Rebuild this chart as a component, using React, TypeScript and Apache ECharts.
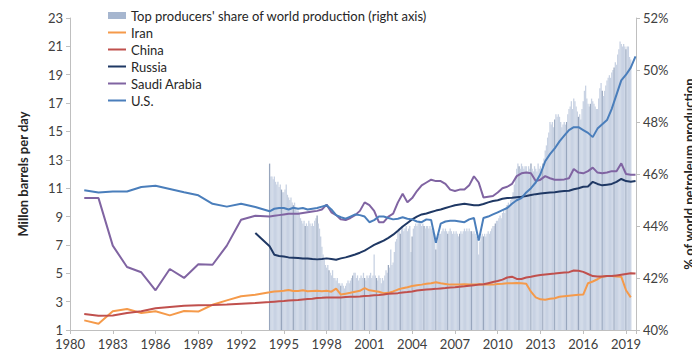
import React, { useEffect, useRef } from "react";
import * as echarts from "echarts";

// Annual readings 1981-1993 (million barrels per day)
const annualYears = [1981, 1982, 1983, 1984, 1985, 1986, 1987, 1988, 1989, 1990, 1991, 1992, 1993];
const iranAnnual = [1.68, 1.44, 2.32, 2.48, 2.2, 2.32, 2.03, 2.34, 2.3, 2.78, 3.09, 3.38, 3.49];
const chinaAnnual = [2.13, 2.01, 2.03, 2.2, 2.32, 2.53, 2.62, 2.71, 2.74, 2.76, 2.8, 2.85, 2.9];
const russiaAnnual = [null, null, null, null, null, null, null, null, null, null, null, null, 7.84];
const saudiAnnual = [10.3, 10.3, 6.95, 5.44, 5.07, 3.8, 5.3, 4.67, 5.63, 5.6, 6.95, 8.78, 9.06];
const usAnnual = [10.85, 10.7, 10.77, 10.77, 11.08, 11.17, 10.94, 10.71, 10.5, 9.9, 9.7, 9.9, 9.67];

// Readings 1994-2019, three per year (Jan, May, Sep)
const periodYears = [1994, 1995, 1996, 1997, 1998, 1999, 2000, 2001, 2002, 2003, 2004, 2005, 2006,
  2007, 2008, 2009, 2010, 2011, 2012, 2013, 2014, 2015, 2016, 2017, 2018, 2019];
const periodMonths = [0, 4, 8];

const iranPeriod = [
  3.66, 3.72, 3.74, 3.76, 3.82, 3.75, 3.75, 3.8, 3.74, 3.75, 3.76, 3.74,
  3.76, 3.7, 3.92, 3.5, 3.56, 3.62, 3.7, 3.76, 3.95, 3.8, 3.75, 3.7,
  3.6, 3.62, 3.72, 3.85, 3.95, 4.02, 4.1, 4.15, 4.2, 4.26, 4.3, 4.36,
  4.3, 4.25, 4.2, 4.2, 4.2, 4.22, 4.2, 4.2, 4.22, 4.2, 4.2, 4.2,
  4.24, 4.26, 4.3, 4.3, 4.31, 4.3, 4.26, 3.7, 3.3, 3.16, 3.14, 3.2,
  3.24, 3.34, 3.38, 3.42, 3.45, 3.48, 3.5, 4.3, 4.42, 4.58, 4.76, 4.8,
  4.8, 4.78, 4.76, 3.8, 3.3, null,
];
const chinaPeriod = [
  2.97, 3.0, 3.03, 3.05, 3.08, 3.1, 3.12, 3.15, 3.18, 3.2, 3.25, 3.27,
  3.3, 3.3, 3.3, 3.3, 3.32, 3.34, 3.35, 3.37, 3.4, 3.42, 3.45, 3.47,
  3.5, 3.55, 3.58, 3.6, 3.65, 3.68, 3.72, 3.78, 3.82, 3.85, 3.88, 3.9,
  3.93, 3.96, 4.0, 4.02, 4.05, 4.08, 4.12, 4.16, 4.2, 4.22, 4.3, 4.38,
  4.45, 4.55, 4.7, 4.76, 4.6, 4.6, 4.7, 4.75, 4.82, 4.88, 4.92, 4.95,
  4.98, 5.02, 5.05, 5.08, 5.2, 5.18, 5.1, 4.95, 4.8, 4.78, 4.78, 4.8,
  4.8, 4.85, 4.9, 4.95, 5.0, 4.98,
];
const russiaPeriod = [
  6.9, 6.3, 6.22, 6.18, 6.12, 6.1, 6.08, 6.05, 6.04, 6.0, 5.98, 6.0,
  6.05, 6.0, 5.95, 6.05, 6.12, 6.22, 6.32, 6.45, 6.6, 6.8, 7.0, 7.15,
  7.3, 7.5, 7.72, 8.0, 8.3, 8.55, 8.8, 9.0, 9.15, 9.22, 9.32, 9.42,
  9.5, 9.6, 9.7, 9.8, 9.85, 9.9, 9.85, 9.8, 9.8, 9.88, 10.0, 10.1,
  10.15, 10.25, 10.3, 10.32, 10.36, 10.4, 10.45, 10.52, 10.58, 10.62, 10.66, 10.7,
  10.72, 10.76, 10.8, 10.82, 10.92, 11.0, 11.1, 11.12, 11.45, 11.3, 11.2, 11.25,
  11.3, 11.45, 11.65, 11.5, 11.45, 11.5,
];
const saudiPeriod = [
  9.0, 9.05, 9.1, 9.15, 9.2, 9.2, 9.2, 9.25, 9.3, 9.35, 9.4, 9.5,
  9.84, 9.3, 9.1, 8.8, 8.75, 8.9, 9.1, 9.4, 10.0, 9.8, 9.4, 8.6,
  8.6, 9.0, 9.2, 10.0, 10.6, 10.0, 10.3, 10.8, 11.2, 11.4, 11.6, 11.5,
  11.5, 11.3, 10.9, 10.8, 10.9, 10.9, 11.2, 11.84, 11.4, 10.35, 10.4, 10.45,
  10.7, 11.0, 11.1, 11.3, 11.85, 12.05, 12.1, 12.05, 11.5, 11.6, 11.85, 11.7,
  11.6, 11.6, 11.62, 11.7, 12.35, 12.1, 12.05, 12.2, 12.45, 12.1, 12.05, 12.1,
  12.2, 12.2, 12.75, 12.0, 11.95, 11.95,
];
const usPeriod = [
  9.37, 9.55, 9.6, 9.6, 9.5, 9.62, 9.55, 9.6, 9.5, 9.55, 9.6, 9.7,
  9.8, 9.5, 9.1, 8.95, 8.85, 9.0, 9.15, 9.1, 9.0, 8.6, 8.75, 9.0,
  9.0, 8.9, 8.8, 8.85, 8.95, 8.85, 8.8, 8.65, 8.6, 8.8, 8.75, 7.15,
  8.5, 8.65, 8.7, 8.7, 8.65, 8.6, 8.8, 8.9, 7.3, 8.9, 9.0, 9.15,
  9.3, 9.45, 9.6, 9.9, 10.15, 10.3, 10.7, 11.0, 11.4, 12.0, 12.9, 13.4,
  13.8, 14.3, 14.7, 15.1, 15.3, 15.3, 15.1, 14.9, 14.6, 15.2, 15.5, 15.8,
  16.6, 17.6, 18.6, 19.0, 19.5, 20.3,
];

// Top producers' share of world production, monthly from Jan 1994 (%)
const shareStartYear = 1994;
const sharePct = [
  46.4, 45.9, 45.9, 45.8, 45.9, 45.7, 45.6, 45.7, 45.5, 45.6, 45.4, 45.3,
  45.3, 45.4, 45.6, 45.2, 45.1, 45.0, 45.1, 44.9, 44.8, 44.9, 44.7, 44.6,
  44.6, 44.5, 44.3, 44.2, 44.1, 44.2, 44.0, 44.1, 44.0, 44.2, 44.1, 44.0,
  44.1, 44.0, 44.2, 44.3, 44.4, 44.1, 43.9, 43.6, 43.2, 42.9, 42.7, 42.5,
  42.4, 42.5, 42.3, 42.2, 42.1, 42.3, 42.0, 42.0, 41.9, 42.0, 41.8, 41.8,
  41.7, 41.8, 41.7, 41.6, 41.7, 41.8, 41.9, 41.8, 41.9, 42.0, 42.1, 42.2,
  42.2, 42.0, 42.1, 41.9, 42.0, 42.1, 42.0, 42.2, 42.0, 41.9, 42.1, 42.0,
  42.1, 42.2, 42.0, 42.1, 42.9, 42.1, 42.0, 41.9, 42.1, 42.0, 41.8, 42.0,
  41.9, 42.1, 42.3, 42.2, 42.5, 42.4, 43.1, 42.5, 42.6, 43.0, 43.4, 43.5,
  43.8, 43.9, 43.7, 43.9, 44.0, 43.8, 43.9, 44.0, 43.8, 43.9, 44.0, 43.0,
  43.6, 43.9, 44.0, 44.1, 44.0, 44.1, 44.2, 44.1, 44.0, 44.1, 44.0, 43.9,
  44.0, 44.0, 43.9, 44.0, 43.9, 43.8, 43.9, 43.7, 43.1, 43.4, 43.6, 43.7,
  43.7, 43.8, 43.9, 43.8, 43.9, 43.8, 43.7, 43.8, 43.9, 43.8, 43.7, 43.8,
  43.7, 43.8, 43.7, 43.6, 43.7, 43.8, 43.7, 43.8, 43.9, 43.8, 43.9, 43.8,
  43.9, 43.8, 43.8, 43.7, 43.8, 43.7, 43.6, 43.5, 42.9, 43.4, 43.6, 43.7,
  43.6, 43.7, 43.6, 43.7, 43.8, 43.7, 43.8, 43.9, 44.0, 44.0, 44.1, 44.2,
  44.2, 44.3, 44.4, 44.3, 44.5, 44.6, 44.5, 44.7, 44.8, 44.9, 44.8, 45.0,
  45.1, 45.3, 45.6, 45.9, 46.2, 46.4, 46.3, 46.2, 46.4, 46.3, 46.2, 46.3,
  46.3, 46.1, 46.3, 46.2, 46.4, 46.2, 46.1, 46.3, 46.2, 46.1, 46.4, 46.2,
  46.3, 46.2, 46.4, 46.6, 46.9, 47.1, 47.4, 47.6, 48.0, 47.9, 48.0, 47.8,
  48.1, 48.3, 48.2, 48.3, 48.2, 48.0, 47.8, 47.9, 48.0, 47.9, 48.0, 48.3,
  48.5, 48.6, 48.8, 48.5, 48.9, 48.8, 48.6, 48.4, 48.2, 48.3, 48.1, 48.5,
  48.8, 49.2, 49.4, 48.9, 48.7, 48.6, 48.7, 48.9, 48.8, 48.7, 48.6, 48.5,
  48.5, 48.9, 49.3, 49.5, 49.2, 49.0, 49.2, 49.4, 49.6, 49.7, 49.8, 49.7,
  49.9, 50.0, 50.1, 50.3, 50.2, 50.6, 50.8, 51.1, 51.0, 50.9, 51.0, 50.9,
  50.8, 50.9, 50.9, 50.5, 50.4,
];

const xTickLabels = [1980, 1983, 1986, 1989, 1992, 1995, 1998, 2001, 2004, 2007, 2010, 2013, 2016, 2019];

const FONT = "Lato, 'Open Sans', sans-serif";
const LINE_ICON = "path://M0,0L18,0L18,0Z M0,2.5L18,2.5L18,4.5L0,4.5Z M0,7L18,7L18,7Z";

function buildLine(annual: (number | null)[], period: (number | null)[]) {
  const pts: [number, number | null][] = [];
  annualYears.forEach((y, i) => {
    if (annual[i] !== null) pts.push([y, annual[i]]);
  });
  let k = 0;
  periodYears.forEach((y) => {
    periodMonths.forEach((m) => {
      const v = period[k++];
      if (v !== null && v !== undefined) pts.push([y + m / 12, v]);
    });
  });
  return pts;
}

export default function App() {
  const ref = useRef<HTMLDivElement>(null);
  useEffect(() => {
    if (!ref.current) return;
    const chart = echarts.init(ref.current, undefined, { renderer: "svg" });
    const barData = sharePct.map((v, i) => ({
      value: [shareStartYear + i / 12, v],
      itemStyle: { color: i % 10 === 0 ? "#98a6bd" : "#c8d2e3" },
    }));
    const lineCommon = {
      type: "line",
      symbol: "none",
      showSymbol: false,
      xAxisIndex: 0,
      yAxisIndex: 0,
      lineStyle: { width: 2 },
    };
    const lineLegend = (name: string) => ({ name, icon: LINE_ICON, itemStyle: { borderWidth: 0 } });
    chart.setOption({
      animation: false,
      textStyle: { fontFamily: FONT },
      grid: { left: 57, right: 72, top: 10, bottom: 28, containLabel: false },
      legend: {
        orient: "vertical",
        left: 100,
        top: 1,
        padding: 0,
        itemWidth: 18,
        itemHeight: 7,
        itemGap: 4,
        itemStyle: { borderWidth: 0 },
        textStyle: { fontSize: 13, color: "#262626", fontFamily: FONT },
        data: [
          { name: "Top producers' share of world production (right axis)", icon: "rect", itemStyle: { color: "#a6b6cf", borderWidth: 0 } },
          lineLegend("Iran"),
          lineLegend("China"),
          lineLegend("Russia"),
          lineLegend("Saudi Arabia"),
          lineLegend("U.S."),
        ],
      },
      xAxis: {
        type: "value",
        min: 1980,
        max: 2019.7,
        interval: 3,
        splitLine: { show: false },
        axisLine: { lineStyle: { color: "#bfbfbf" } },
        axisTick: { show: true, length: 4, lineStyle: { color: "#bfbfbf" } },
        axisLabel: {
          fontSize: 13,
          color: "#404040",
          margin: 7,
          fontFamily: FONT,
          formatter: (v: number) => (xTickLabels.includes(v) ? String(v) : ""),
        },
      },
      yAxis: [
        {
          type: "value",
          min: 1,
          max: 23,
          interval: 2,
          name: "Millon barrels per day",
          nameLocation: "middle",
          nameRotate: 90,
          nameGap: 41,
          nameTextStyle: { fontSize: 13, fontWeight: "bold", color: "#262626", fontFamily: FONT },
          splitLine: { show: false },
          axisLine: { show: true, lineStyle: { color: "#bfbfbf" } },
          axisTick: { show: true, length: 4, lineStyle: { color: "#bfbfbf" } },
          axisLabel: { fontSize: 13, color: "#404040", margin: 7, padding: [0, 0, 2, 0], fontFamily: FONT },
        },
        {
          type: "value",
          min: 40,
          max: 52,
          interval: 2,
          position: "right",
          name: "% of world petroleum production",
          nameLocation: "middle",
          nameRotate: 90,
          nameGap: 46,
          nameTextStyle: { fontSize: 13, fontWeight: "bold", color: "#262626", fontFamily: FONT },
          splitLine: { show: false },
          axisLine: { show: true, lineStyle: { color: "#bfbfbf" } },
          axisTick: { show: true, length: 4, lineStyle: { color: "#bfbfbf" } },
          axisLabel: { fontSize: 13, color: "#404040", margin: 7, padding: [0, 0, 2, 0], fontFamily: FONT, formatter: "{value}%" },
        },
      ],
      series: [
        {
          name: "Top producers' share of world production (right axis)",
          type: "bar",
          xAxisIndex: 0,
          yAxisIndex: 1,
          barWidth: 1.3,
          itemStyle: { color: "#c8d2e3" },
          data: barData,
        },
        { ...lineCommon, name: "Iran", color: "#f59a4a", lineStyle: { width: 2, color: "#f59a4a" }, data: buildLine(iranAnnual, iranPeriod) },
        { ...lineCommon, name: "China", color: "#c0504d", lineStyle: { width: 2, color: "#c0504d" }, data: buildLine(chinaAnnual, chinaPeriod) },
        { ...lineCommon, name: "Russia", color: "#1f3864", lineStyle: { width: 2, color: "#1f3864" }, data: buildLine(russiaAnnual, russiaPeriod) },
        { ...lineCommon, name: "Saudi Arabia", color: "#8064a2", lineStyle: { width: 2, color: "#8064a2" }, data: buildLine(saudiAnnual, saudiPeriod) },
        { ...lineCommon, name: "U.S.", color: "#4a7ebb", lineStyle: { width: 2, color: "#4a7ebb" }, data: buildLine(usAnnual, usPeriod) },
      ],
    });
    return () => chart.dispose();
  }, []);
  return <div ref={ref} style={{ width: 700, height: 350 }} />;
}
